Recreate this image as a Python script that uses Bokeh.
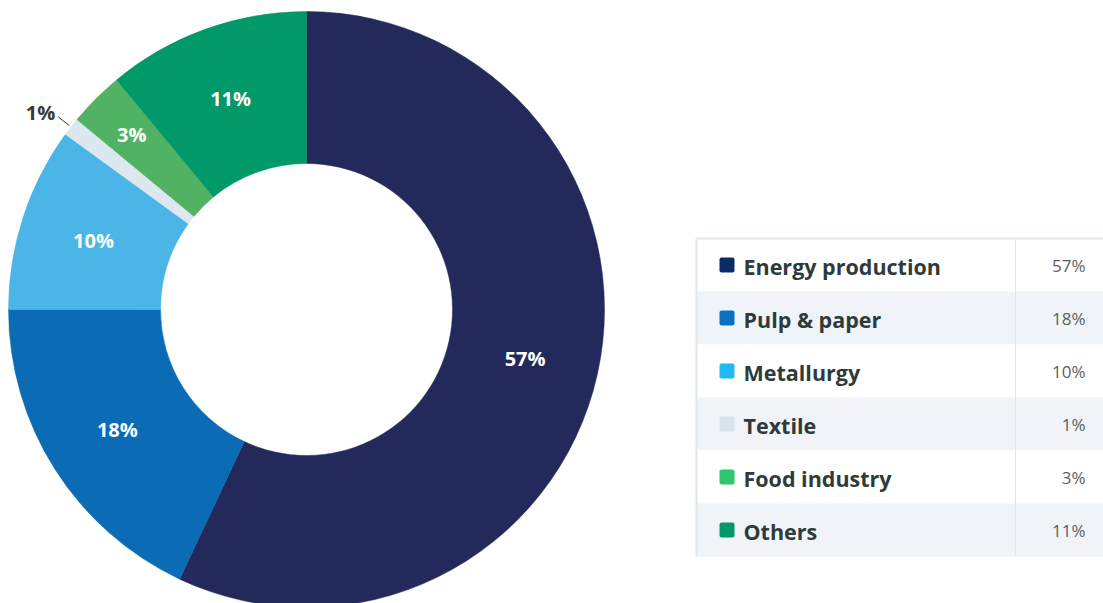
import math
from bokeh.plotting import figure
from bokeh.models import Range1d, ColumnDataSource
from bokeh.core.properties import value
from bokeh.embed import file_html
from bokeh.resources import INLINE

categories = ["Energy production", "Pulp & paper", "Metallurgy", "Textile", "Food industry", "Others"]
shares = [57, 18, 10, 1, 3, 11]
pie_colors = ["#232A5B", "#0B6BB5", "#4BB5E8", "#DCE7F0", "#52B263", "#02996A"]
legend_colors = ["#0B2A63", "#0A72C0", "#1FBBF0", "#D6E2EC", "#2FC66C", "#02996A"]
labels = [f"{v}%" for v in shares]

W, H = 1103, 603
p = figure(width=W, height=H, x_range=Range1d(0, W), y_range=Range1d(0, H),
           output_backend="svg", toolbar_location=None, min_border=0)
p.axis.visible = False
p.grid.visible = False
p.outline_line_color = None
p.background_fill_color = "white"
p.border_fill_color = "white"

FONT = value("Open Sans")
cx, cy = 306, H - 309
r_in, r_out = 146, 298

total = sum(shares)
starts, ends, mids = [], [], []
acc = 0.0
for v in shares:
    a0 = math.pi / 2 - 2 * math.pi * acc / total
    acc += v
    a1 = math.pi / 2 - 2 * math.pi * acc / total
    starts.append(a0); ends.append(a1); mids.append((a0 + a1) / 2)

src = ColumnDataSource(dict(start=starts, end=ends, color=pie_colors))
p.annular_wedge(x=cx, y=cy, inner_radius=r_in, outer_radius=r_out,
                start_angle="start", end_angle="end", direction="clock",
                fill_color="color", line_color="color", line_width=0.5, source=src)

# labels
in_x, in_y, in_t = [], [], []
out_x, out_y, out_t, lx0, ly0, lx1, ly1 = [], [], [], [], [], [], []
for v, m, t in zip(shares, mids, labels):
    if v >= 3:
        rl = 224 if v >= 5 else 247
        in_x.append(cx + rl * math.cos(m)); in_y.append(cy + rl * math.sin(m)); in_t.append(t)
    else:
        lx0.append(cx + (r_out + 2) * math.cos(m)); ly0.append(cy + (r_out + 2) * math.sin(m))
        lx1.append(cx + (r_out + 16) * math.cos(m)); ly1.append(cy + (r_out + 16) * math.sin(m))
        out_x.append(cx + (r_out + 20) * math.cos(m)); out_y.append(cy + (r_out + 20) * math.sin(m) + 2); out_t.append(t)

p.text(x=in_x, y=in_y, text=in_t, text_color="white", text_font=FONT, text_font_style="bold",
       text_font_size="20px", text_align="center", text_baseline="middle")
p.segment(x0=lx0, y0=ly0, x1=lx1, y1=ly1, line_color="#333333", line_width=1)
p.text(x=out_x, y=out_y, text=out_t, text_color="#333B3B", text_font=FONT, text_font_style="bold",
       text_font_size="20px", text_align="right", text_baseline="middle")

# table
tx0, tx1, tdiv = 696, 1103, 1015
ttop = H - 238
rh = 53
n = len(categories)
tops = [ttop - i * rh for i in range(n)]
bots = [t - rh for t in tops]
fills = ["white" if i % 2 == 0 else "#F0F4F9" for i in range(n)]
p.quad(left=tx0, right=tx1, top=tops, bottom=bots, fill_color=fills, line_color=None)
p.segment(x0=[tx0, tx0, tdiv], y0=[ttop, ttop, ttop], x1=[tx1, tx0, tdiv], y1=[ttop, bots[-1], bots[-1]],
          line_color="#DFE8F1", line_width=[2, 2, 1])
rc = [t - rh / 2 for t in tops]
p.rect(x=726.5, y=rc, width=15, height=15, fill_color=legend_colors, line_color=None,
       border_radius=2)
p.text(x=743, y=[c - 1 for c in rc], text=categories, text_color="#2F3A3A", text_font=FONT,
       text_font_style="bold", text_font_size="21.5px", text_align="left", text_baseline="middle")
p.text(x=1085, y=rc, text=labels, text_color="#5A5F60", text_font=FONT,
       text_font_size="17px", text_align="right", text_baseline="middle")

open("out.html", "w").write(file_html(p, INLINE))
